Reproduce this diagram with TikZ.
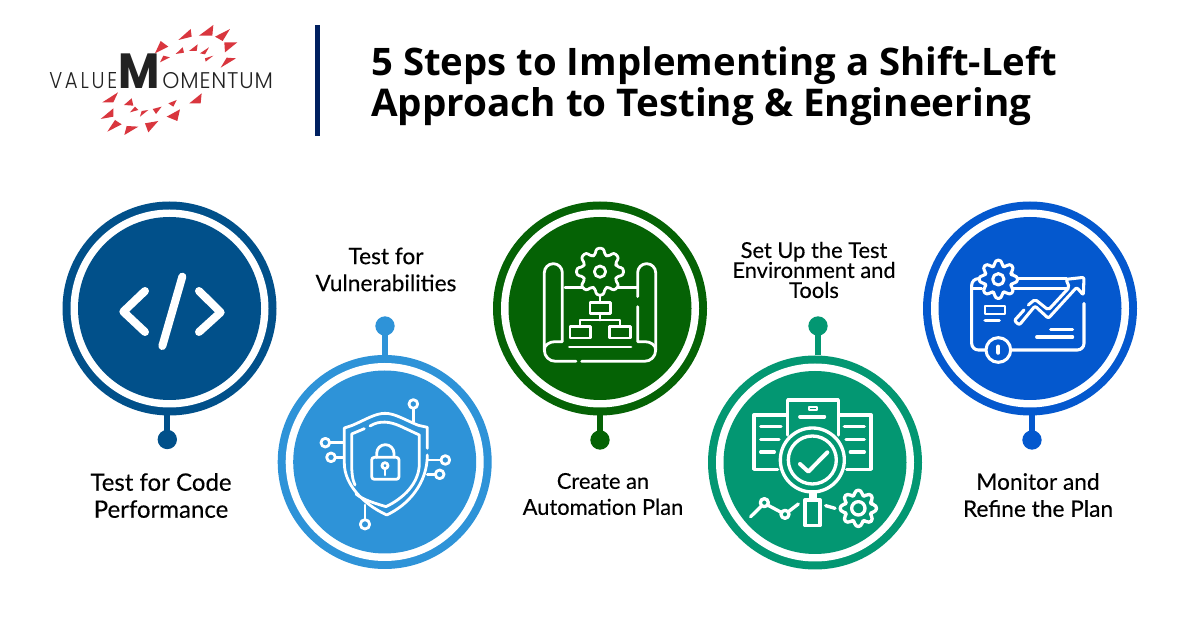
\documentclass[tikz,border=0pt]{standalone}
\usepackage{fontspec}
\usepackage{graphicx}
\setmainfont{Lato}[FakeBold=0.2,AutoFakeBold=0]
\newfontfamily\labelfont{Lato}[FakeBold=0.25]
\newfontfamily\titlefont{Open Sans}[UprightFeatures={FakeBold=1.2}]
\newfontfamily\logolight{Poppins Light}[LetterSpace=14]
\newfontfamily\logolightb{Poppins Light}[LetterSpace=4]
\newfontfamily\logobold{Poppins}[BoldFont=* Bold]
\definecolor{cA}{HTML}{01508A}
\definecolor{cB}{HTML}{2E93D8}
\definecolor{cC}{HTML}{056205}
\definecolor{cD}{HTML}{039772}
\definecolor{cE}{HTML}{0458CE}
\definecolor{navy}{HTML}{002060}
\definecolor{logored}{HTML}{D9363E}
\definecolor{logoink}{HTML}{222222}
\tikzset{
  x=0.75pt,y=-0.75pt,
  ring/.style={circle,minimum size=160.5pt,inner sep=0pt,outer sep=0pt,fill=#1},
  dotn/.style={circle,minimum size=14.5pt,inner sep=0pt,outer sep=0pt,fill=#1},
  stem/.style={line width=4.5pt,draw=#1},
  lab/.style={align=center,text=black,inner sep=0pt,font=\labelfont\fontsize{17}{20.25}\selectfont},
  labnarrow/.style={align=center,text=black,inner sep=0pt,font=\labelfont\fontsize{16.4}{19.5}\selectfont},
  labwide/.style={align=center,text=black,inner sep=0pt,font=\labelfont\fontsize{18}{20.25}\selectfont},
  labtight/.style={align=center,text=black,inner sep=0pt,font=\labelfont\fontsize{16.4}{15}\selectfont},
  ttl/.style={anchor=base west,inner sep=0pt,text=black},
  logot/.style={anchor=base west,inner sep=0pt,text=logoink},
  ic/.style={draw=white,line width=2.1pt,line cap=round,line join=round},
  tri/.style={fill=logored},
}
\newcommand{\stepdisc}[4]{%
  \node[ring=#4] (#1) at (#2,#3) {};
  \fill[white] (#1.center) circle (99);
  \fill[#4] (#1.center) circle (91.5);
}
\newcommand{\gearline}[6]{%
  \pgfmathsetmacro{\gstep}{360/#6}
  \pgfmathsetmacro{\glast}{#6-1}
  \draw[#1] ({#2+#5*cos(-0.36*\gstep)},{#3+#5*sin(-0.36*\gstep)})
    \foreach \gi in {0,...,\glast}{
      \pgfextra{\pgfmathsetmacro{\ga}{\gi*\gstep}}
      -- ({#2+#5*cos(\ga-0.36*\gstep)},{#3+#5*sin(\ga-0.36*\gstep)})
      -- ({#2+#4*cos(\ga-0.2*\gstep)},{#3+#4*sin(\ga-0.2*\gstep)})
      -- ({#2+#4*cos(\ga+0.2*\gstep)},{#3+#4*sin(\ga+0.2*\gstep)})
      -- ({#2+#5*cos(\ga+0.36*\gstep)},{#3+#5*sin(\ga+0.36*\gstep)})
    } -- cycle;
}
\begin{document}
\begin{tikzpicture}
\useasboundingbox (0,0) rectangle (1200,630);
\fill[white] (0,0) rectangle (1200,630);

% logo triangles (zoom coordinates)
\begin{scope}[shift={(30,15)},scale=1/3]
\fill[tri] (445,75)--(482,42)--(485,65)--cycle;
\fill[tri] (507,62)--(550,30)--(547,62)--cycle;
\fill[tri] (555,65)--(600,42)--(578,78)--cycle;
\fill[tri] (583,82)--(622,82)--(585,112)--cycle;
\fill[tri] (572,158)--(590,128)--(618,130)--cycle;
\fill[tri] (375,115)--(392,78)--(415,95)--cycle;
\fill[tri] (390,142)--(400,122)--(420,127)--cycle;
\fill[tri] (437,117)--(458,97)--(462,113)--cycle;
\fill[tri] (477,108)--(503,88)--(500,108)--cycle;
\fill[tri] (510,115)--(537,97)--(525,118)--cycle;
\fill[tri] (525,130)--(550,122)--(527,140)--cycle;
\fill[tri] (217,262)--(264,232)--(250,262)--cycle;
\fill[tri] (212,312)--(250,280)--(250,305)--cycle;
\fill[tri] (232,350)--(255,315)--(275,328)--cycle;
\fill[tri] (283,360)--(290,333)--(325,335)--cycle;
\fill[tri] (345,325)--(385,318)--(355,352)--cycle;
\fill[tri] (282,270)--(305,250)--(310,272)--cycle;
\fill[tri] (300,292)--(315,275)--(325,285)--cycle;
\fill[tri] (330,305)--(335,288)--(355,285)--cycle;
\fill[tri] (368,282)--(395,275)--(378,297)--cycle;
\fill[tri] (415,265)--(440,255)--(430,275)--cycle;
\fill[tri] (410,305)--(450,283)--(442,318)--cycle;
\fill[tri] (478,265)--(515,235)--(512,265)--cycle;
\end{scope}
\node[logot] (logoA) at (49,89) {\resizebox{51pt}{12pt}{\logolight VALUE}};
\node[logot] (logoB) at (118.5,89) {\resizebox{31pt}{26pt}{\logobold\bfseries M}};
\node[logot] (logoC) at (162,89) {\resizebox{83pt}{12pt}{\logolightb OMENTUM}};

% title
\fill[navy] (315,25) rectangle (320,136);
\node[ttl] (t1) at (371,75.5) {\resizebox{514pt}{21.75pt}{\titlefont\bfseries 5 Steps to Implementing a Shift-Left}};
\node[ttl] (t2) at (371,116.5) {\resizebox{495pt}{21.75pt}{\titlefont\bfseries Approach to Testing \& Engineering}};

% discs
\stepdisc{c1}{169.5}{308.5}{cA}
\stepdisc{c2}{384.7}{462}{cB}
\stepdisc{c3}{600}{308.5}{cC}
\stepdisc{c4}{815}{462.5}{cD}
\stepdisc{c5}{1030}{308.5}{cE}

% dots and stems
\node[dotn=cA] (d1) at (167.3,439.5) {};
\node[dotn=cB] (d2) at (385,326) {};
\node[dotn=cC] (d3) at (600,440) {};
\node[dotn=cD] (d4) at (818,326) {};
\node[dotn=cE] (d5) at (1032,440) {};
\draw[stem=cA] (d1.center) -- (d1 |- c1.south);
\draw[stem=cB] (d2.center) -- (d2 |- c2.north);
\draw[stem=cC] (d3.center) -- (d3 |- c3.south);
\draw[stem=cD] (d4.center) -- (d4 |- c4.north);
\draw[stem=cE] (d5.center) -- (d5 |- c5.south);

% labels
\node[labwide] (l1) at (161,495.5) {Test for Code\\Performance};
\node[lab] (l2) at (386,269.5) {Test for\\Vulnerabilities};
\node[labnarrow] (l3) at (603,494) {Create an\\Automation Plan};
\node[labtight] (l4) at (814,270) {Set Up the Test\\Environment and\\Tools};
\node[lab] (l5) at (1038,495) {Monitor and\\Refine the Plan};

% icon 1: code
\begin{scope}[shift={(60,200)},scale=1/3]
\draw[ic,line width=6pt] (255,273)--(190,335)--(255,396);
\draw[ic,line width=6pt] (417,273)--(482,337)--(417,396);
\draw[ic,line width=6pt] (367,230)--(307,438);
\end{scope}

% icon 2: shield
\begin{scope}[shift={(275,320)},scale=1/3]
\draw[ic] (457,385)--(457,322)--(430,316) .. controls (390,300) and (360,280) .. (330,280) .. controls (300,280) and (270,300) .. (232,316)--(208,324)--(208,430) .. controls (208,490) and (260,550) .. (335,585) .. controls (400,555) and (457,490) .. (457,405);
\draw[ic] (268,326)--(230,342)--(230,430) .. controls (230,455) and (232,480) .. (240,495);
\draw[ic] (243,522) .. controls (265,540) and (300,550) .. (333,560) .. controls (385,535) and (433,490) .. (433,430)--(433,345)--(375,318) .. controls (345,305) and (315,300) .. (285,318);
\draw[ic] (415,305)--(415,266);
\draw[ic] (415,252) circle (13);
\draw[ic] (205,368)--(164,368);
\draw[ic] (151,368) circle (13);
\draw[ic] (205,412)--(182,412);
\draw[ic] (168,412) circle (13);
\draw[ic] (457,420)--(497,420);
\draw[ic] (511,420) circle (13);
\draw[ic] (457,463)--(480,463);
\draw[ic] (494,463) circle (13);
\draw[ic] (270,555)--(270,599);
\draw[ic] (270,613) circle (14);
\draw[ic,rounded corners=2pt] (290,412) rectangle (372,478);
\draw[ic] (305,412)--(305,400) arc[start angle=180,end angle=360,radius=26] --(357,412);
\draw[ic] (330,437) circle (9);
\draw[ic] (330,446)--(330,465);
\end{scope}

% icon 3: blueprint
\begin{scope}[shift={(490,200)},scale=1/3]
\draw[ic] (163,450)--(163,218) arc[start angle=180,end angle=360,radius=27] --(217,425)--(195,425) .. controls (178,425) and (163,435) .. (163,450) .. controls (163,470) and (178,484) .. (197,484)--(258,484);
\draw[ic] (275,484)--(463,484) .. controls (482,484) and (497,470) .. (497,450) .. controls (497,435) and (482,425) .. (465,425)--(443,425)--(443,320);
\draw[ic] (497,450)--(497,218) arc[start angle=0,end angle=-180,radius=27] --(443,290);
\draw[ic] (225,262)--(275,262);
\draw[ic] (385,262)--(440,262);
\gearline{ic,rounded corners=2pt}{330}{215}{71}{52}{8}
\draw[ic] (330,215) circle (17);
\draw[ic] (330,287)--(330,308);
\draw[ic] (300,308) rectangle (362,340);
\draw[ic] (330,340)--(330,360);
\draw[ic] (270,380)--(270,360)--(390,360)--(390,380);
\draw[ic] (240,380) rectangle (302,414);
\draw[ic] (358,380) rectangle (422,414);
\draw[ic] (238,441)--(423,441);
\end{scope}

% icon 4: inspection
\begin{scope}[shift={(705,320)},scale=1/3]
\tikzset{ic/.append style={line width=2.5pt}}
\begin{scope}[every path/.append style={line cap=butt}]
\draw[ic] (248,345)--(248,240)--(400,240)--(400,345);
\draw[ic] (245,285)--(147,285)--(147,448)--(218,448);
\draw[ic] (402,285)--(498,285)--(498,448)--(425,448);
\draw[ic] (167,320)--(228,320);
\draw[ic] (167,358)--(222,358);
\draw[ic] (167,396)--(208,396);
\draw[ic] (418,320)--(478,320);
\draw[ic] (423,358)--(478,358);
\draw[ic] (436,396)--(478,396);
\draw[ic,line width=1.6pt] (312,260) rectangle (335,270);
\draw[ic,line width=2.8pt] (285,290)--(358,290);
\end{scope}
\draw[ic] (322,420) circle (96);
\draw[ic] (322,420) circle (72);
\draw[ic] (318,516) rectangle (330,540);
\draw[ic] (300,540) rectangle (345,617);
\draw[ic,line width=3pt] (285,432)--(310,455)--(367,397);
\draw[ic] (137,590)--(178,550)--(240,583)--(280,552);
\draw[ic,fill=cD] (178,548) circle (12);
\draw[ic,fill=cD] (240,583) circle (12);
\draw[ic] (362,557)--(390,565);
\gearline{ic,rounded corners=2pt}{460}{565}{55}{41}{8}
\draw[ic] (460,565) circle (20);
\end{scope}

% icon 5: monitor
\begin{scope}[shift={(920,200)},scale=1/3]
\tikzset{ic/.append style={line width=2.3pt}}
\draw[ic,rounded corners=5pt] (200,450)--(155,450)--(155,236)--(280,236);
\draw[ic] (285,236)--(440,236);
\draw[ic] (160,265)--(185,265);
\draw[ic] (272,265)--(440,265);
\draw[ic,rounded corners=5pt] (270,450)--(492,450)--(492,310);
\gearline{ic,rounded corners=2pt,fill=cE}{235}{238}{58}{42}{8}
\draw[ic] (235,238) circle (17);
\draw[ic,fill=cE] (235,450) circle (37);
\draw[ic,line width=3.2pt] (235,440)--(235,458);
\draw[ic,line width=2pt] (195,318) rectangle (255,342);
\draw[ic] (195,362)--(238,362);
\draw[ic] (392,388)--(458,388);
\draw[ic] (350,411)--(458,411);
\draw[ic,rounded corners=1.5pt] (325,315)--(345,298)--(385,330)--(448,262)--(438,238)--(492,232)--(490,285)--(470,262)--(385,355)--(345,318)--(298,375)--(283,362)--(312,330);
\end{scope}
\end{tikzpicture}
\end{document}
